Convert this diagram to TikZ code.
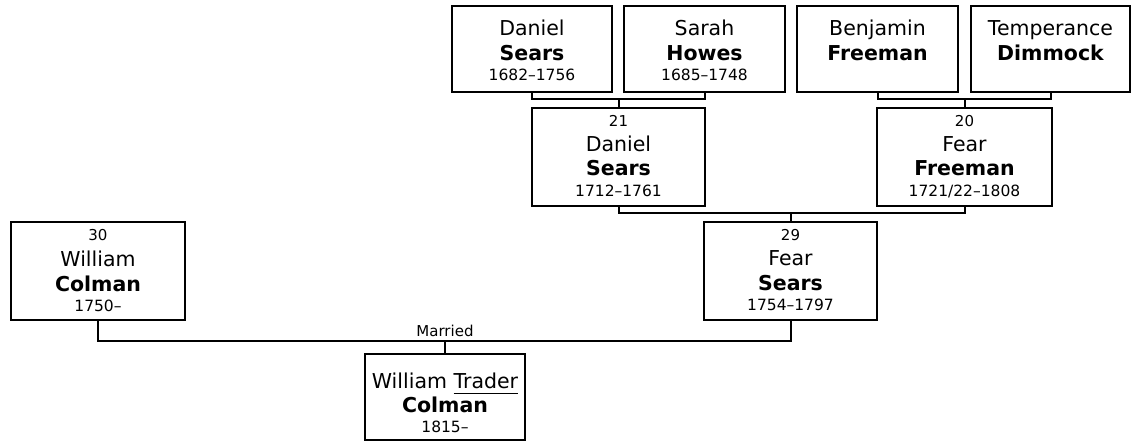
\documentclass[tikz,border=0pt]{standalone}
\usepackage{fontspec}
\setmainfont{DejaVu Sans}
\begin{document}
\begin{tikzpicture}[x=1pt,y=-1pt,
  pbox/.style={draw=black, line width=2pt, inner sep=0pt, fill=white},
  topbox/.style={pbox, minimum height=86pt},
  numbox/.style={pbox, minimum height=98pt},
  given/.style={anchor=base, inner sep=0pt, font=\fontsize{20.5}{24}\selectfont},
  sur/.style={anchor=base, inner sep=0pt, font=\fontsize{20.5}{24}\selectfont\bfseries},
  yrs/.style={anchor=base, inner sep=0pt, font=\fontsize{15.5}{18}\selectfont},
  num/.style={anchor=base, inner sep=0pt, font=\fontsize{15}{17}\selectfont},
  link/.style={draw=black, line width=2pt}]
\useasboundingbox (0,0) rectangle (1131,441);

% ---- boxes ----
\node[topbox, minimum width=160pt] (ds) at (532,49) {};
\node[topbox, minimum width=161pt] (sh) at (704.5,49) {};
\node[topbox, minimum width=161pt] (bf) at (877.5,49) {};
\node[topbox, minimum width=159pt] (td) at (1050.5,49) {};
\node[numbox, minimum width=173pt] (s21) at (618.5,157) {};
\node[numbox, minimum width=175pt] (f20) at (964.5,157) {};
\node[numbox, minimum width=173pt] (s29) at (790.5,271) {};
\node[numbox, minimum width=174pt] (c30) at (98,271) {};
\node[topbox, minimum width=160pt] (ch) at (445,397) {};

% ---- texts ----
\node[given] (dsa) at (532,36) {Daniel};
\node[sur]   (dsb) at (532,61) {Sears};
\node[yrs]   (dsc) at (532,81) {1682--1756};

\node[given] (sha) at (704.5,36) {Sarah};
\node[sur]   (shb) at (704.5,61) {Howes};
\node[yrs]   (shc) at (704.5,81) {1685--1748};

\node[given] (bfa) at (877.5,36) {Benjamin};
\node[sur]   (bfb) at (877.5,61) {Freeman};

\node[given] (tda) at (1050.5,36) {Temperance};
\node[sur]   (tdb) at (1050.5,61) {Dimmock};

\node[num]   (s21n) at (618.5,126) {21};
\node[given] (s21a) at (618.5,151) {Daniel};
\node[sur]   (s21b) at (618.5,175) {Sears};
\node[yrs]   (s21c) at (618.5,196) {1712--1761};

\node[num]   (f20n) at (964.5,126) {20};
\node[given] (f20a) at (964.5,151) {Fear};
\node[sur]   (f20b) at (964.5,175) {Freeman};
\node[yrs]   (f20c) at (964.5,196) {1721/22--1808};

\node[num]   (s29n) at (790.5,240) {29};
\node[given] (s29a) at (790.5,265) {Fear};
\node[sur]   (s29b) at (790.5,290) {Sears};
\node[yrs]   (s29c) at (790.5,310) {1754--1797};

\node[num]   (c30n) at (98,240) {30};
\node[given] (c30a) at (98,266) {William};
\node[sur]   (c30b) at (98,291) {Colman};
\node[yrs]   (c30c) at (98,311) {1750--};

\node[given] (cha) at (445,388) {William \underline{Trader\vphantom{p}}};
\node[sur]   (chb) at (445,412) {Colman};
\node[yrs]   (chc) at (445,432) {1815--};

% ---- connectors ----
\coordinate (m1) at (618.5,99);
\coordinate (m2) at (964.5,99);
\coordinate (m3) at (790.5,213);
\coordinate (m4) at (445,341);

\draw[link] (ds.south) |- (m1) -| (sh.south);
\draw[link] (m1) -- (s21.north);
\draw[link] (bf.south) |- (m2) -| (td.south);
\draw[link] (m2) -- (f20.north);
\draw[link] (s21.south) |- (m3) -| (f20.south);
\draw[link] (m3) -- (s29.north);
\draw[link] (c30.south) |- (m4) -| (s29.south);
\draw[link] (m4) -- (ch.north);
\node[num] (mar) at (445,336) {Married};
\end{tikzpicture}
\end{document}
